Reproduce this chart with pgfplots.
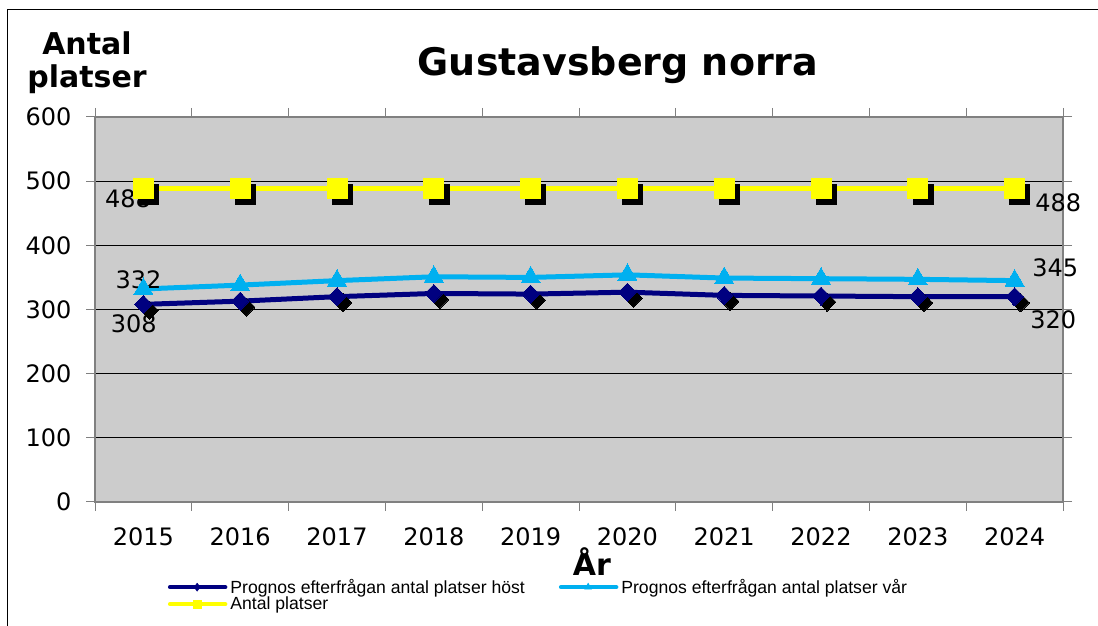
\documentclass[border=0pt]{standalone}
\usepackage{pgfplots}
\pgfplotsset{compat=1.18}
\usepackage{fontspec}
\setmainfont{DejaVu Sans}
\newfontfamily\legfont{Liberation Sans}
\definecolor{hostc}{RGB}{0,0,128}
\definecolor{varc}{RGB}{0,176,240}
\definecolor{antc}{RGB}{255,255,0}
\definecolor{bgc}{RGB}{204,204,204}
\definecolor{axc}{RGB}{128,128,128}
\begin{document}
\begin{tikzpicture}[x=1pt,y=1pt]
\path[use as bounding box] (0,0) rectangle (1098,626);
\draw[line width=1pt] (7,0) -- (7,616) -- (1098,616);
\node[font=\fontsize{38}{44}\bfseries\selectfont, anchor=base] at (618,550) {Gustavsberg norra};
\node[font=\fontsize{30}{33}\bfseries\selectfont, anchor=base, align=center] at (87,571) {Antal};
\node[font=\fontsize{30}{33}\bfseries\selectfont, anchor=base] at (87,538) {platser};
\node[font=\fontsize{30}{33}\bfseries\selectfont, anchor=base] at (592,50) {År};
\begin{axis}[
  at={(95pt,124pt)}, anchor=south west,
  scale only axis, width=968pt, height=385pt,
  xmin=-0.5, xmax=9.5, ymin=0, ymax=600,
  axis background/.style={fill=bgc},
  axis line style={axc, line width=1.5pt},
  xtick={0,...,9},
  xticklabels={2015,2016,2017,2018,2019,2020,2021,2022,2023,2024},
  minor xtick={-0.5,0.5,...,9.5},
  ytick={0,100,...,600},
  tick align=outside,
  major tick length=9pt, minor tick length=9pt,
  x tick style={draw=none},
  minor x tick style={draw=axc, line width=1pt},
  y tick style={draw=axc, line width=1pt},
  ymajorgrids, grid style={black, line width=0.8pt},
  /pgf/number format/assume math mode=true,
  ticklabel style={font=\fontsize{24}{28}\selectfont},
  yticklabel style={xshift=-11pt},
  xticklabel style={yshift=-13pt},
  legend columns=2,
  legend style={draw=none, fill=none, at={(0.072,-0.19)}, anchor=north west,
    font=\legfont\fontsize{17.6}{15}\selectfont,
    row sep=-2pt,
    /tikz/every even column/.append style={column sep=32pt},
    /tikz/every odd column/.append style={column sep=1pt}},
  legend cell align=left,
  legend image code/.code={\draw[#1,mark repeat=2,mark phase=2] plot coordinates {(0pt,0pt) (27pt,0pt) (55pt,0pt)};},
  clip=false,
]
\addlegendimage{hostc, line width=4.5pt, line cap=round, mark=diamond*, mark size=4pt, mark options={line width=0.5pt}}
\addlegendentry{Prognos efterfrågan antal platser höst}
\addlegendimage{varc, line width=4.5pt, line cap=round, mark=triangle*, mark size=4pt, mark options={line width=0.5pt}}
\addlegendentry{Prognos efterfrågan antal platser vår}
\addlegendimage{antc, line width=4.5pt, line cap=round, mark=square*, mark size=4pt, mark options={line width=0.5pt}}
\addlegendentry{Antal platser}
% Antal platser
\addplot[forget plot, only marks, mark=square*, black, mark size=10pt, mark options={xshift=5pt, yshift=-5pt}]
  coordinates {(0,488) (1,488) (2,488) (3,488) (4,488) (5,488) (6,488) (7,488) (8,488) (9,488)};
\addplot[forget plot, antc, line width=5pt, mark=square*, mark size=10pt, mark options={line width=0pt}]
  coordinates {(0,488) (1,488) (2,488) (3,488) (4,488) (5,488) (6,488) (7,488) (8,488) (9,488)};
% vår
\addplot[forget plot, varc, line width=5pt, mark=triangle*, mark size=11pt, mark options={line width=0pt}]
  coordinates {(0,332) (1,338) (2,345) (3,351) (4,350) (5,354) (6,349) (7,348) (8,347) (9,345)};
% höst
\addplot[forget plot, only marks, mark=diamond*, black, mark size=9pt, mark options={xshift=6pt, yshift=-6pt, xscale=1.3, line width=0pt}]
  coordinates {(0,308) (1,313) (2,320) (3,325) (4,324) (5,327) (6,322) (7,321) (8,320) (9,320)};
\addplot[forget plot, hostc, line width=5pt, mark=diamond*, mark size=9pt, mark options={xscale=1.3, line width=0pt}]
  coordinates {(0,308) (1,313) (2,320) (3,325) (4,324) (5,327) (6,322) (7,321) (8,320) (9,320)};
\node[font=\fontsize{24}{28}\selectfont] at (axis cs:-0.16,473) {488};
\node[font=\fontsize{24}{28}\selectfont] at (axis cs:9.45,466) {488};
\node[font=\fontsize{24}{28}\selectfont] at (axis cs:-0.05,347) {332};
\node[font=\fontsize{24}{28}\selectfont] at (axis cs:-0.1,278) {308};
\node[font=\fontsize{24}{28}\selectfont] at (axis cs:9.42,365) {345};
\node[font=\fontsize{24}{28}\selectfont] at (axis cs:9.4,284) {320};
\end{axis}
\end{tikzpicture}
\end{document}
